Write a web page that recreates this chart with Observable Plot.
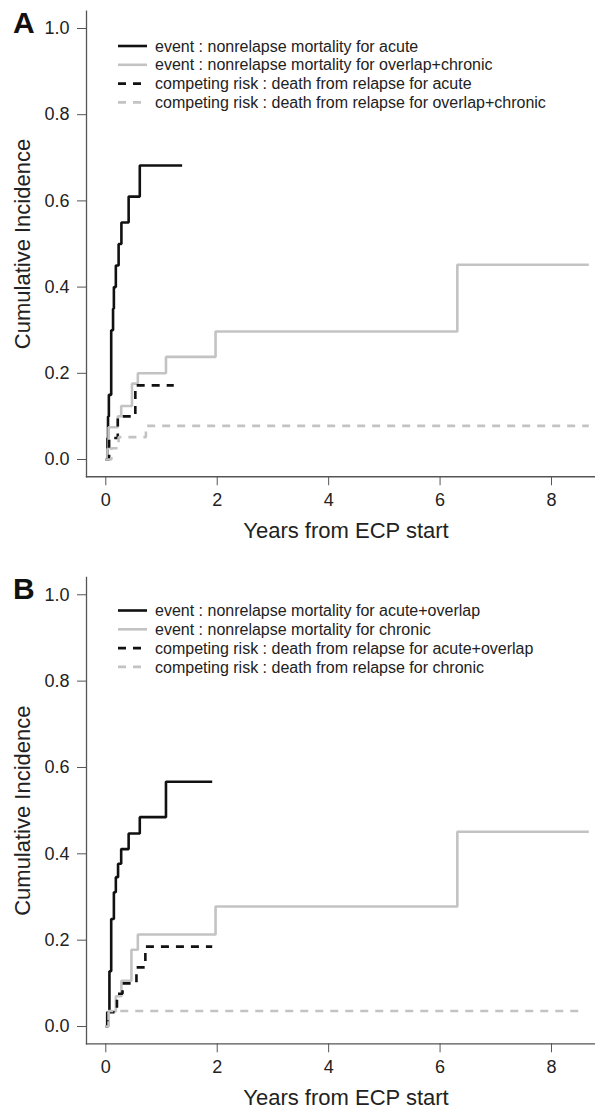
<!DOCTYPE html>
<html><head><meta charset="utf-8">
<script src="https://cdn.jsdelivr.net/npm/d3@7"></script>
<script src="https://cdn.jsdelivr.net/npm/@observablehq/plot@0.6"></script>
<style>body{margin:0;background:#fff;} #chart svg{display:block;}</style>
</head><body><div id="chart"></div>
<script>
// ---- shared axis data ----
const xTicks = [0, 2, 4, 6, 8];
const yTicks = [0, 0.2, 0.4, 0.6, 0.8, 1.0];
const xTitle = "Years from ECP start";
const yTitle = "Cumulative Incidence";

// ---- Panel A ----
const labelsA = [
  "event : nonrelapse mortality for acute",
  "event : nonrelapse mortality for overlap+chronic",
  "competing risk : death from relapse for acute",
  "competing risk : death from relapse for overlap+chronic"
];
const tA1 = [0, 0.03, 0.04, 0.055, 0.097, 0.13, 0.145, 0.18, 0.23, 0.28, 0.41, 0.61, 1.37];
const vA1 = [0, 0.05, 0.10, 0.15, 0.30, 0.35, 0.40, 0.45, 0.50, 0.55, 0.61, 0.682, 0.682];
const tA2 = [0, 0.03, 0.05, 0.215, 0.276, 0.47, 0.575, 1.08, 1.97, 6.31, 8.67];
const vA2 = [0, 0.025, 0.075, 0.10, 0.124, 0.176, 0.20, 0.238, 0.297, 0.452, 0.452];
const tA3 = [0, 0.06, 0.215, 0.53, 1.22];
const vA3 = [0, 0.05, 0.10, 0.172, 0.172];
const tA4 = [0, 0.1, 0.23, 0.72, 8.67];
const vA4 = [0, 0.026, 0.052, 0.078, 0.078];

// ---- Panel B ----
const labelsB = [
  "event : nonrelapse mortality for acute+overlap",
  "event : nonrelapse mortality for chronic",
  "competing risk : death from relapse for acute+overlap",
  "competing risk : death from relapse for chronic"
];
const tB1 = [0, 0.025, 0.065, 0.097, 0.145, 0.18, 0.22, 0.276, 0.41, 0.61, 1.08, 1.91];
const vB1 = [0, 0.033, 0.128, 0.249, 0.311, 0.346, 0.377, 0.411, 0.447, 0.485, 0.567, 0.567];
const tB2 = [0, 0.05, 0.18, 0.28, 0.46, 0.575, 1.97, 6.31, 8.67];
const vB2 = [0, 0.035, 0.07, 0.106, 0.178, 0.213, 0.278, 0.451, 0.451];
const tB3 = [0, 0.03, 0.2, 0.3, 0.55, 0.71, 1.91];
const vB3 = [0, 0.033, 0.076, 0.10, 0.137, 0.185, 0.185];
const tB4 = [0, 0.05, 8.6];
const vB4 = [0, 0.036, 0.036];

const styles = [
  {stroke: "#111", dash: null},
  {stroke: "#c3c3c3", dash: null},
  {stroke: "#111", dash: "8,7"},
  {stroke: "#c3c3c3", dash: "8,7"}
];
const FONT = "'Liberation Sans', Arial, Helvetica, sans-serif";

function makePanel(cfg) {
  const rows = [];
  cfg.series.forEach((s, i) => s.t.forEach((t, j) => rows.push({t, v: s.v[j], key: i})));
  const lineMarks = styles.map((st, i) => Plot.line(rows.filter(d => d.key === i), {
    x: "t", y: "v", curve: "step-after", stroke: st.stroke, strokeWidth: 2.6,
    strokeDasharray: st.dash, strokeLinejoin: "miter", strokeLinecap: "butt"
  }));
  const plot = Plot.plot({
    width: 595, height: cfg.height,
    marginLeft: 86, marginRight: 0, marginTop: cfg.mt, marginBottom: cfg.mb,
    x: {domain: [-0.3465, 8.79]},
    y: {domain: [-0.04, 1.04]},
    style: {fontFamily: FONT, background: "#fff", color: "#222", overflow: "visible"},
    marks: [
      Plot.axisY({ticks: yTicks, tickFormat: d3.format(".1f"), tickSize: 9, tickPadding: 8, fontSize: 18, stroke: "#555", fill: "#222", label: null}),
      Plot.axisX({ticks: xTicks, tickSize: 9, tickPadding: 7, fontSize: 18, stroke: "#555", fill: "#222", label: null}),
      Plot.frame({anchor: "left", stroke: "#555", strokeWidth: 1.3}),
      Plot.frame({anchor: "bottom", stroke: "#555", strokeWidth: 1.3}),
      ...lineMarks,
      Plot.text([xTitle], {text: d => d, frameAnchor: "bottom", textAnchor: "middle", lineAnchor: "middle", dx: 5, dy: 54, fontSize: 22, fill: "#222"}),
      Plot.text([yTitle], {text: d => d, frameAnchor: "left", textAnchor: "middle", lineAnchor: "middle", rotate: -90, dx: -64, fontSize: 22, fill: "#222"})
    ]
  });
  const svg = d3.select(plot);
  svg.append("text").attr("x", 13).attr("y", cfg.letterY).attr("text-anchor", "start")
    .attr("font-family", FONT).attr("font-size", 30).attr("font-weight", "bold")
    .attr("fill", "#111").text(cfg.letter);
  const lg = svg.append("g").attr("font-family", FONT).attr("font-size", 16).attr("text-anchor", "start");
  cfg.labels.forEach((lab, i) => {
    const y = cfg.legendY + i * 18.8;
    lg.append("line").attr("x1", 118).attr("x2", 147).attr("y1", y).attr("y2", y)
      .attr("stroke", styles[i].stroke).attr("stroke-width", 2.6)
      .attr("stroke-dasharray", styles[i].dash || null);
    lg.append("text").attr("x", 155).attr("y", y).attr("dy", "0.35em").attr("fill", "#222").text(lab);
  });
  return plot;
}

const chart = document.getElementById("chart");
chart.appendChild(makePanel({
  height: 555, mt: 10.76, mb: 78.76, letter: "A", letterY: 33, legendY: 46, labels: labelsA,
  series: [{t: tA1, v: vA1}, {t: tA2, v: vA2}, {t: tA3, v: vA3}, {t: tA4, v: vA4}]
}));
chart.appendChild(makePanel({
  height: 556, mt: 22, mb: 67.7, letter: "B", letterY: 44, legendY: 55.5, labels: labelsB,
  series: [{t: tB1, v: vB1}, {t: tB2, v: vB2}, {t: tB3, v: vB3}, {t: tB4, v: vB4}]
}));
</script>
</body></html>
